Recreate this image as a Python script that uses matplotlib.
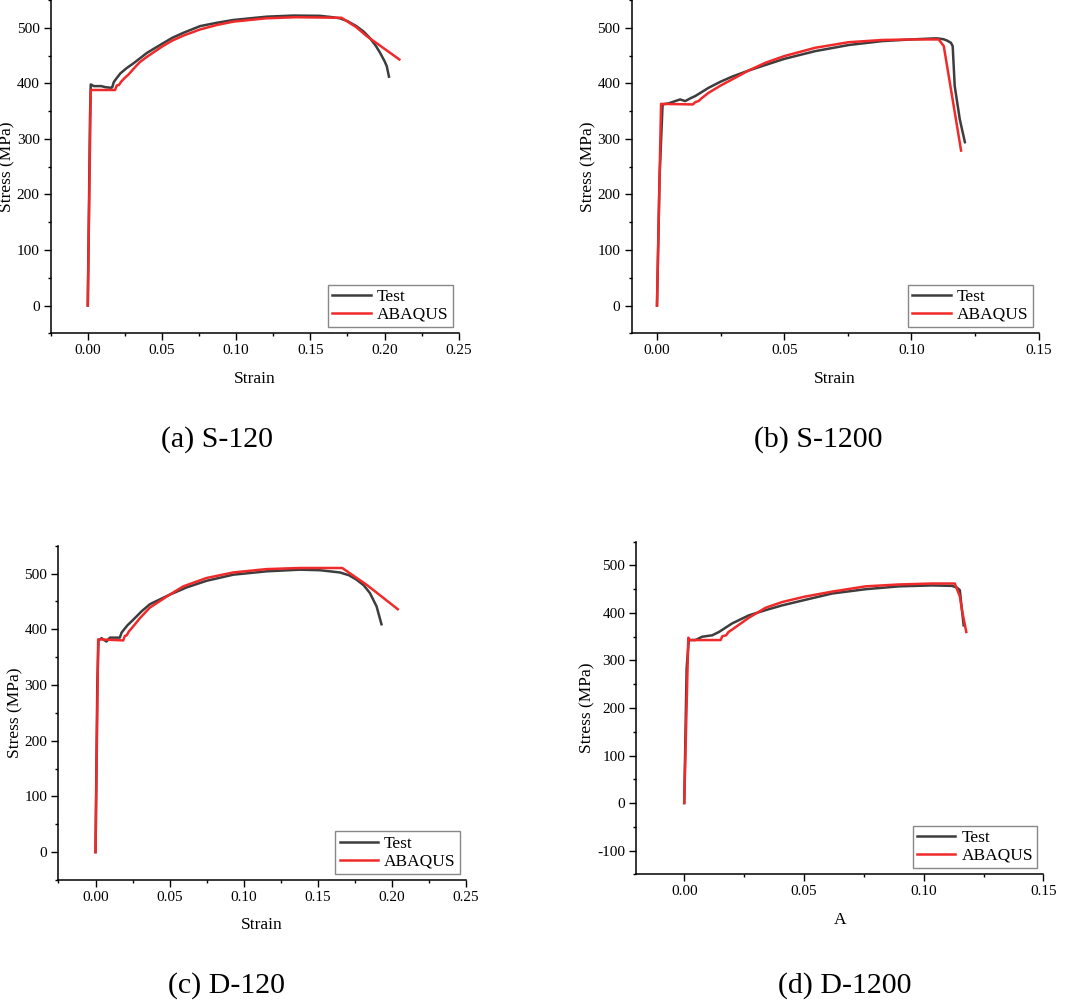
import numpy as np
import matplotlib
matplotlib.use("Agg")
import matplotlib.pyplot as plt
from matplotlib.ticker import MultipleLocator, FormatStrFormatter

plt.rcParams['font.family'] = ['Liberation Serif', 'DejaVu Serif']
plt.rcParams['axes.unicode_minus'] = False

TEST_COLOR = '#3d3d3d'
FEA_COLOR = '#f02a2a'

# (a) S-120
a_test_strain = [0, 0.0015, 0.002, 0.004, 0.009, 0.012, 0.0157, 0.0165, 0.0175, 0.0185,
                 0.022, 0.026, 0.0308, 0.04, 0.05, 0.057, 0.0645, 0.0757, 0.087, 0.098,
                 0.1206, 0.1386, 0.1566, 0.165, 0.17, 0.175, 0.181, 0.186, 0.19, 0.194,
                 0.197, 0.2, 0.2015, 0.203]
a_test_stress = [0, 340, 398, 395, 395, 393, 392, 393, 402, 406,
                 418, 427, 436, 455, 471, 482, 491, 503, 509, 514,
                 520, 522, 521.5, 519, 517, 512, 503, 493, 482, 468,
                 455, 440, 431, 412]
a_fea_strain = [0, 0.002, 0.0184, 0.0195, 0.021, 0.0225, 0.025, 0.0275, 0.0308, 0.035,
                0.04, 0.05, 0.057, 0.0645, 0.0757, 0.087, 0.098, 0.12, 0.14, 0.171,
                0.181, 0.188, 0.21]
a_fea_stress = [0, 388, 388, 396, 397, 403, 410, 416, 426, 438,
                448, 466, 477, 486, 497, 505, 511, 517, 519, 518,
                501, 485, 443]

# (b) S-1200
b_test_strain = [0, 0.001, 0.0022, 0.0046, 0.0091, 0.0111, 0.0131, 0.015, 0.0203, 0.025,
                 0.0295, 0.036, 0.0426, 0.05, 0.0622, 0.0754, 0.0885, 0.1, 0.107, 0.11,
                 0.1125, 0.114, 0.1155, 0.1162, 0.117, 0.119, 0.121]
b_test_stress = [0, 230, 362, 364, 371, 368, 373, 377, 392, 403,
                 412, 423, 433, 444, 458, 469, 476, 479, 480.5, 481,
                 479.5, 477, 473, 467, 395, 335, 294]
b_fea_strain = [0, 0.0016, 0.0141, 0.015, 0.0163, 0.0175, 0.0203, 0.025, 0.0295, 0.036,
                0.0426, 0.05, 0.0622, 0.0753, 0.0884, 0.1, 0.1107, 0.1127, 0.1195]
b_fea_stress = [0, 363, 362, 366, 368, 373, 383, 396, 407, 423,
                437, 449, 464, 474, 478, 479, 479, 467, 279]

# (c) D-120
c_test_strain = [0, 0.0012, 0.002, 0.004, 0.0074, 0.0097, 0.0164, 0.0176, 0.0215, 0.0254,
                 0.031, 0.0367, 0.05, 0.0614, 0.0749, 0.093, 0.1154, 0.1379, 0.1514,
                 0.1649, 0.171, 0.1762, 0.181, 0.1852, 0.1897, 0.193]
c_test_stress = [0, 300, 380, 384, 378, 385, 385, 394, 407, 417,
                 432, 445, 462, 475, 487, 498, 504, 507, 506,
                 502, 497, 489, 479, 465, 441, 409]
c_fea_strain = [0, 0.0018, 0.0187, 0.0198, 0.021, 0.0225, 0.0254, 0.03, 0.0367, 0.05,
                0.0592, 0.0749, 0.093, 0.1154, 0.1379, 0.1665, 0.1829, 0.204]
c_fea_stress = [0, 382, 380, 388, 389, 396, 405, 420, 439, 462,
                477, 492, 502, 508, 510, 510, 480, 436]

# (d) D-1200
d_test_strain = [0, 0.001, 0.0019, 0.0047, 0.0075, 0.0117, 0.0145, 0.02, 0.027, 0.034,
                 0.0409, 0.05, 0.0618, 0.0757, 0.0896, 0.1035, 0.1119, 0.114, 0.1151,
                 0.116, 0.1167]
d_test_stress = [0, 283, 343, 343, 350, 353, 360, 378, 395, 406,
                 416, 427, 441, 450, 456, 458, 457, 453, 448,
                 406, 374]
d_fea_strain = [0, 0.0017, 0.0023, 0.0152, 0.0159, 0.0175, 0.0185, 0.02, 0.027, 0.034,
                0.0409, 0.05, 0.0618, 0.0757, 0.0896, 0.1035, 0.113, 0.1151, 0.116, 0.1178]
d_fea_stress = [0, 348, 343, 343, 351, 353, 360, 365, 390, 411,
                423, 434, 445, 456, 460, 462, 462, 435, 406, 360]

captions = ['(a) S-120', '(b) S-1200', '(c) D-120', '(d) D-1200']
xlabels = ['Strain', 'Strain', 'Strain', 'A']

fig = plt.figure(figsize=(10.65, 10), dpi=100)

# axes rectangles in figure fractions
rects = [[0.0476, 0.6667, 0.3831, 0.3333],
         [0.5930, 0.6667, 0.3823, 0.3333],
         [0.0549, 0.1200, 0.3826, 0.3343],
         [0.5975, 0.1257, 0.3822, 0.3326]]
xlims = [(-0.025, 0.25), (-0.01, 0.15), (-0.025, 0.25), (-0.02, 0.15)]
ylims = [(-50, 550), (-50, 550), (-50, 550), (-150, 550)]

data = [(a_test_strain, a_test_stress, a_fea_strain, a_fea_stress),
        (b_test_strain, b_test_stress, b_fea_strain, b_fea_stress),
        (c_test_strain, c_test_stress, c_fea_strain, c_fea_stress),
        (d_test_strain, d_test_stress, d_fea_strain, d_fea_stress)]

for i in range(4):
    ax = fig.add_axes(rects[i])
    ts, tf, fs, ff = data[i]
    ax.plot(ts, tf, color=TEST_COLOR, lw=1.8, label='Test')
    ax.plot(fs, ff, color=FEA_COLOR, lw=1.8, label='ABAQUS')
    ax.set_xlim(*xlims[i])
    ax.set_ylim(*ylims[i])
    ax.xaxis.set_major_locator(MultipleLocator(0.05))
    ax.xaxis.set_minor_locator(MultipleLocator(0.025))
    ax.yaxis.set_major_locator(MultipleLocator(100))
    ax.yaxis.set_minor_locator(MultipleLocator(50))
    ax.xaxis.set_major_formatter(FormatStrFormatter('%.2f'))
    for s in ['top', 'right']:
        ax.spines[s].set_visible(False)
    for s in ['left', 'bottom']:
        ax.spines[s].set_linewidth(1.1)
    ax.tick_params(which='major', direction='out', length=5, width=1.0, labelsize=11, pad=3)
    ax.tick_params(which='minor', direction='out', length=2.5, width=1.0)
    ax.set_ylabel('Stress (MPa)', fontsize=12.5, labelpad=1)
    ax.set_xlabel(xlabels[i], fontsize=12.5, labelpad=9.5)
    leg = ax.legend(loc='lower right', fontsize=12.5, frameon=True, fancybox=False,
                    framealpha=1, edgecolor='#888888', borderpad=0.25,
                    labelspacing=0.1, handlelength=2.2, handletextpad=0.35,
                    borderaxespad=0.35)
    leg.get_frame().set_linewidth(1.0)

cap_pos = [(217, 440), (818, 440), (227, 986), (845, 986)]
for (px, py), txt in zip(cap_pos, captions):
    fig.text(px / 1065, 1 - py / 1000, txt, fontsize=21.5, ha='center', va='center')

fig.savefig('out.png', dpi=100)
